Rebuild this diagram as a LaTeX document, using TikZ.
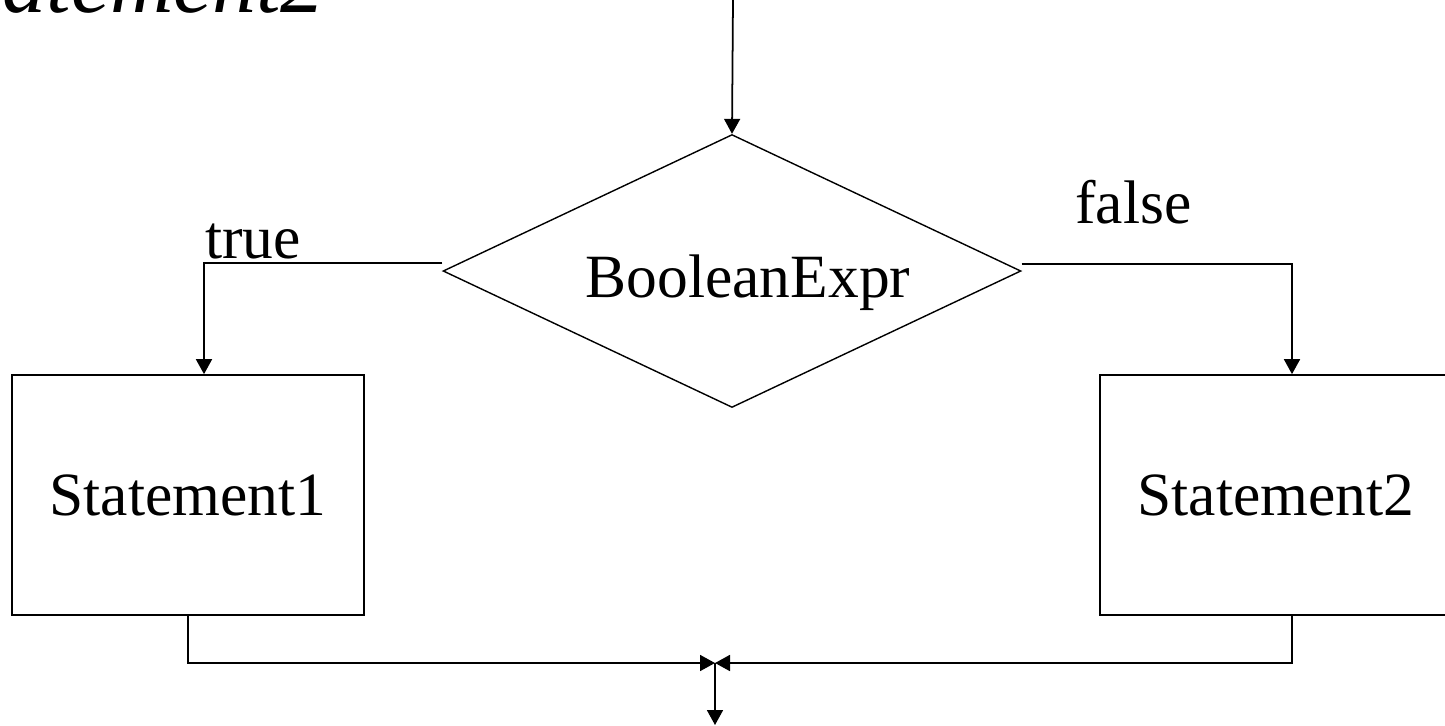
\documentclass[tikz,border=0pt]{standalone}
\usepackage{fontspec}
\setmainfont{Liberation Serif}
\usetikzlibrary{shapes.geometric,arrows.meta}
\tikzset{
	flow/.style={line width=1pt, -{Triangle[length=0.3cm,width=0.32cm]}},
	stmt/.style={draw, line width=1pt, minimum width=7.04cm, minimum height=4.8cm, font=\fontsize{35}{42}\selectfont},
	lbl/.style={font=\fontsize{35}{42}\selectfont, inner sep=0pt}
}
\begin{document}
\begin{tikzpicture}[x=0.02cm, y=-0.02cm]
	\useasboundingbox (0,0) rectangle (1445,725);
	\node[lbl, font=\fontsize{50}{60}\selectfont\itshape, anchor=base east] (prev) at (325,12) {Statement2};
	\node[draw, diamond, line width=0.8pt, minimum width=11.56cm, minimum height=5.46cm, inner sep=0pt] (cond) at (732,271) {};
	\node[lbl, anchor=base] (condtxt) at (748,297) {BooleanExpr};
	\node[stmt] (s1) at (188,495) {Statement1};
	\node[stmt] (s2) at (1276,495) {Statement2};
	\node[lbl, anchor=base west] (t) at (205,258) {true};
	\node[lbl, anchor=base west] (f) at (1075,223) {false};
	\coordinate (in) at (733,0);
	\coordinate (tl) at (204,263);
	\coordinate (tr) at (1292,264);
	\coordinate (join) at (715,663);
	\coordinate (out) at (715,725);
	% branches
	\draw[flow] (in) -- (cond.north);
	\draw[flow] (cond.west |- tl) -- (tl) -- (tl |- s1.north);
	\draw[flow] (cond.east |- tr) -- (tr) -- (tr |- s2.north);
	% merge
	\draw[flow] (s1.south) |- (join);
	\draw[flow] (tr |- s2.south) |- (join);
	\draw[flow] (join) -- (out);
\end{tikzpicture}
\end{document}
